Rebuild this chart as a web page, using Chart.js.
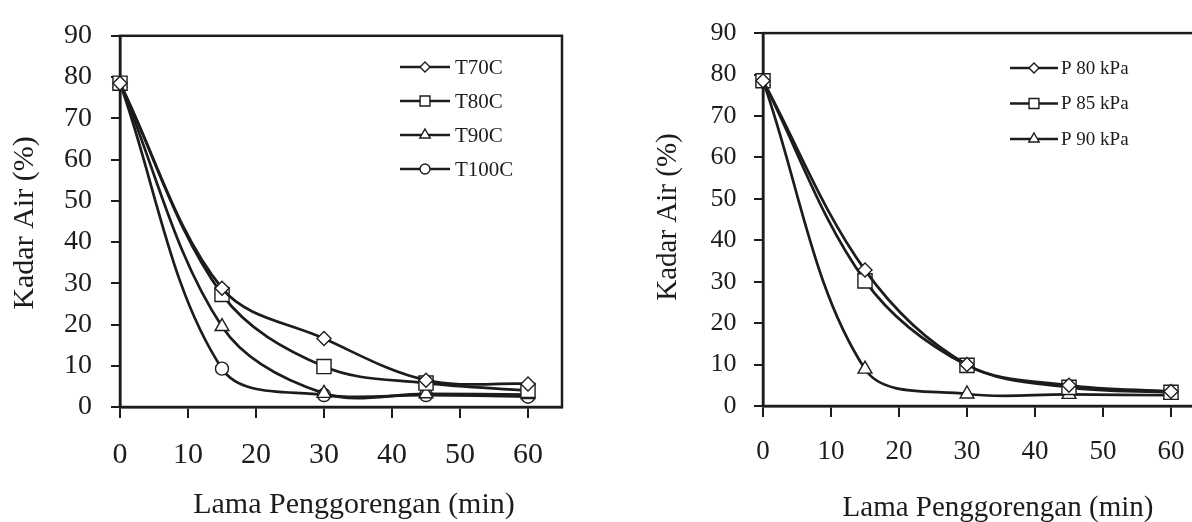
<!DOCTYPE html>
<html lang="id">
<head>
<meta charset="UTF-8">
<title>Kadar Air selama Penggorengan</title>
<script src="https://cdn.jsdelivr.net/npm/chart.js"></script>
<style>
  html, body {
    margin: 0;
    padding: 0;
    background: #fff;
    width: 1192px;
    height: 522px;
    overflow: hidden;
  }
  canvas { position: absolute; top: 0; }
  #suhu { left: 0; }
  #tekanan { left: 600px; }
</style>
</head>
<body>
<canvas id="suhu" width="600" height="522"></canvas>
<canvas id="tekanan" width="620" height="522"></canvas>

<script>
// waktu penggorengan (menit)
const minutes = [0, 15, 30, 45, 60];
const xTicks = [0, 10, 20, 30, 40, 50, 60];
const yTicks = [0, 10, 20, 30, 40, 50, 60, 70, 80, 90];

// kadar air (%) per suhu
const suhuNames = ['T70C', 'T80C', 'T90C', 'T100C'];
const t70 = [78.5, 28.8, 16.6, 6.5, 5.6];
const t80 = [78.5, 27.3, 9.8, 5.8, 4.0];
const t90 = [78.5, 19.5, 3.3, 3.2, 3.0];
const t100 = [78.5, 9.3, 2.9, 2.9, 2.5];

// kadar air (%) per tekanan vakum
const tekananNames = ['P 80 kPa', 'P 85 kPa', 'P 90 kPa'];
const p80 = [78.5, 32.8, 10.0, 5.0, 3.5];
const p85 = [78.5, 30.2, 9.8, 4.5, 3.3];
const p90 = [78.5, 8.9, 2.9, 2.8, 2.6];

const ink = '#1c1c1c';
const serif = '"Liberation Serif", "Times New Roman", serif';
const shapes = ['rectRot', 'rect', 'triangle', 'circle'];
const radii = [7, 10, 8, 6.5];
const keyRadii = [5, 7, 6, 5];

// box around the plot area
const frame = {
  id: 'frame',
  beforeDatasetsDraw(chart) {
    const a = chart.chartArea, ctx = chart.ctx;
    ctx.save();
    ctx.strokeStyle = ink;
    ctx.lineWidth = 2.5;
    ctx.strokeRect(a.left, a.top, a.right - a.left, a.bottom - a.top);
    ctx.restore();
  }
};

// axis titles placed relative to the plot area
const axisTitles = {
  id: 'axisTitles',
  afterDraw(chart, args, o) {
    const a = chart.chartArea, ctx = chart.ctx;
    ctx.save();
    ctx.fillStyle = ink;
    ctx.font = o.size + 'px ' + serif;
    ctx.textAlign = 'center';
    ctx.textBaseline = 'middle';
    ctx.fillText(o.x, a.left + o.xDx, o.xY);
    ctx.translate(o.yX, o.yY);
    ctx.rotate(-Math.PI / 2);
    ctx.fillText(o.y, 0, 0);
    ctx.restore();
  }
};

// legend drawn as line + marker + name, inside the plot
const keyLegend = {
  id: 'keyLegend',
  afterDraw(chart, args, o) {
    const ctx = chart.ctx;
    ctx.save();
    chart.data.datasets.forEach((ds, i) => {
      const y = o.top + i * o.gap;
      ctx.strokeStyle = ink;
      ctx.lineWidth = 2.5;
      ctx.beginPath();
      ctx.moveTo(o.x, y);
      ctx.lineTo(o.x + o.len, y);
      ctx.stroke();
      ctx.fillStyle = '#fff';
      ctx.lineWidth = 1.4;
      Chart.helpers.drawPoint(ctx, {
        pointStyle: ds.pointStyle, radius: keyRadii[i], rotation: 0, borderWidth: 1.4
      }, o.x + o.len / 2, y);
      ctx.fillStyle = ink;
      ctx.font = o.size + 'px ' + serif;
      ctx.textAlign = 'left';
      ctx.textBaseline = 'middle';
      ctx.fillText(ds.label, o.x + o.len + o.textGap, y + 1);
    });
    ctx.restore();
  }
};

function buildChart(id, names, series, cfg) {
  const datasets = series.map((vals, i) => ({
    label: names[i],
    data: minutes.map((m, k) => ({ x: m, y: vals[k] })),
    borderColor: ink,
    borderWidth: 2.7,
    tension: 0.35,
    clip: false,
    pointStyle: shapes[i],
    pointRadius: radii[i],
    pointBackgroundColor: '#fff',
    pointBorderColor: ink,
    pointBorderWidth: 1.4
  }));

  return new Chart(document.getElementById(id), {
    type: 'line',
    data: { datasets: datasets },
    options: {
      responsive: false,
      animation: false,
      layout: { padding: cfg.padding },
      plugins: {
        legend: { display: false },
        tooltip: { enabled: false },
        axisTitles: cfg.titles,
        keyLegend: cfg.legend
      },
      scales: {
        x: {
          type: 'linear',
          min: 0,
          max: 65,
          afterBuildTicks: s => { s.ticks = xTicks.map(v => ({ value: v })); },
          afterFit: s => { s.height = cfg.xHeight; },
          ticks: {
            color: ink,
            font: { family: serif, size: cfg.xFont },
            padding: cfg.xPad,
            maxRotation: 0,
            autoSkip: false
          },
          grid: { drawOnChartArea: false, tickLength: 11, color: ink, lineWidth: 2 },
          border: { color: ink, width: 2.5 }
        },
        y: {
          min: 0,
          max: 90,
          afterBuildTicks: s => { s.ticks = yTicks.map(v => ({ value: v })); },
          afterFit: s => { s.width = cfg.yWidth; },
          ticks: {
            color: ink,
            font: { family: serif, size: cfg.yFont },
            padding: cfg.yPad
          },
          grid: { drawOnChartArea: false, tickLength: 9, color: ink, lineWidth: 2 },
          border: { color: ink, width: 2.5 }
        }
      }
    },
    plugins: [frame, axisTitles, keyLegend]
  });
}

buildChart('suhu', suhuNames, [t70, t80, t90, t100], {
  padding: { left: 0, top: 23, right: 38, bottom: 0 },
  yWidth: 120, xHeight: 115,
  xFont: 30, yFont: 28, xPad: 19, yPad: 19,
  titles: {
    x: 'Lama Penggorengan (min)', xDx: 234, xY: 505,
    y: 'Kadar Air (%)', yX: 25, yY: 223, size: 30
  },
  legend: { x: 400, len: 50, top: 67, gap: 34, textGap: 5, size: 21 }
});

buildChart('tekanan', tekananNames, [p80, p85, p90], {
  padding: { left: 0, top: 19.5, right: 15, bottom: 0 },
  yWidth: 163, xHeight: 116,
  xFont: 27, yFont: 26, xPad: 19, yPad: 17.5,
  titles: {
    x: 'Lama Penggorengan (min)', xDx: 235, xY: 508,
    y: 'Kadar Air (%)', yX: 68, yY: 217, size: 29
  },
  legend: { x: 410, len: 48, top: 68, gap: 35.5, textGap: 3, size: 19 }
});
</script>
</body>
</html>
